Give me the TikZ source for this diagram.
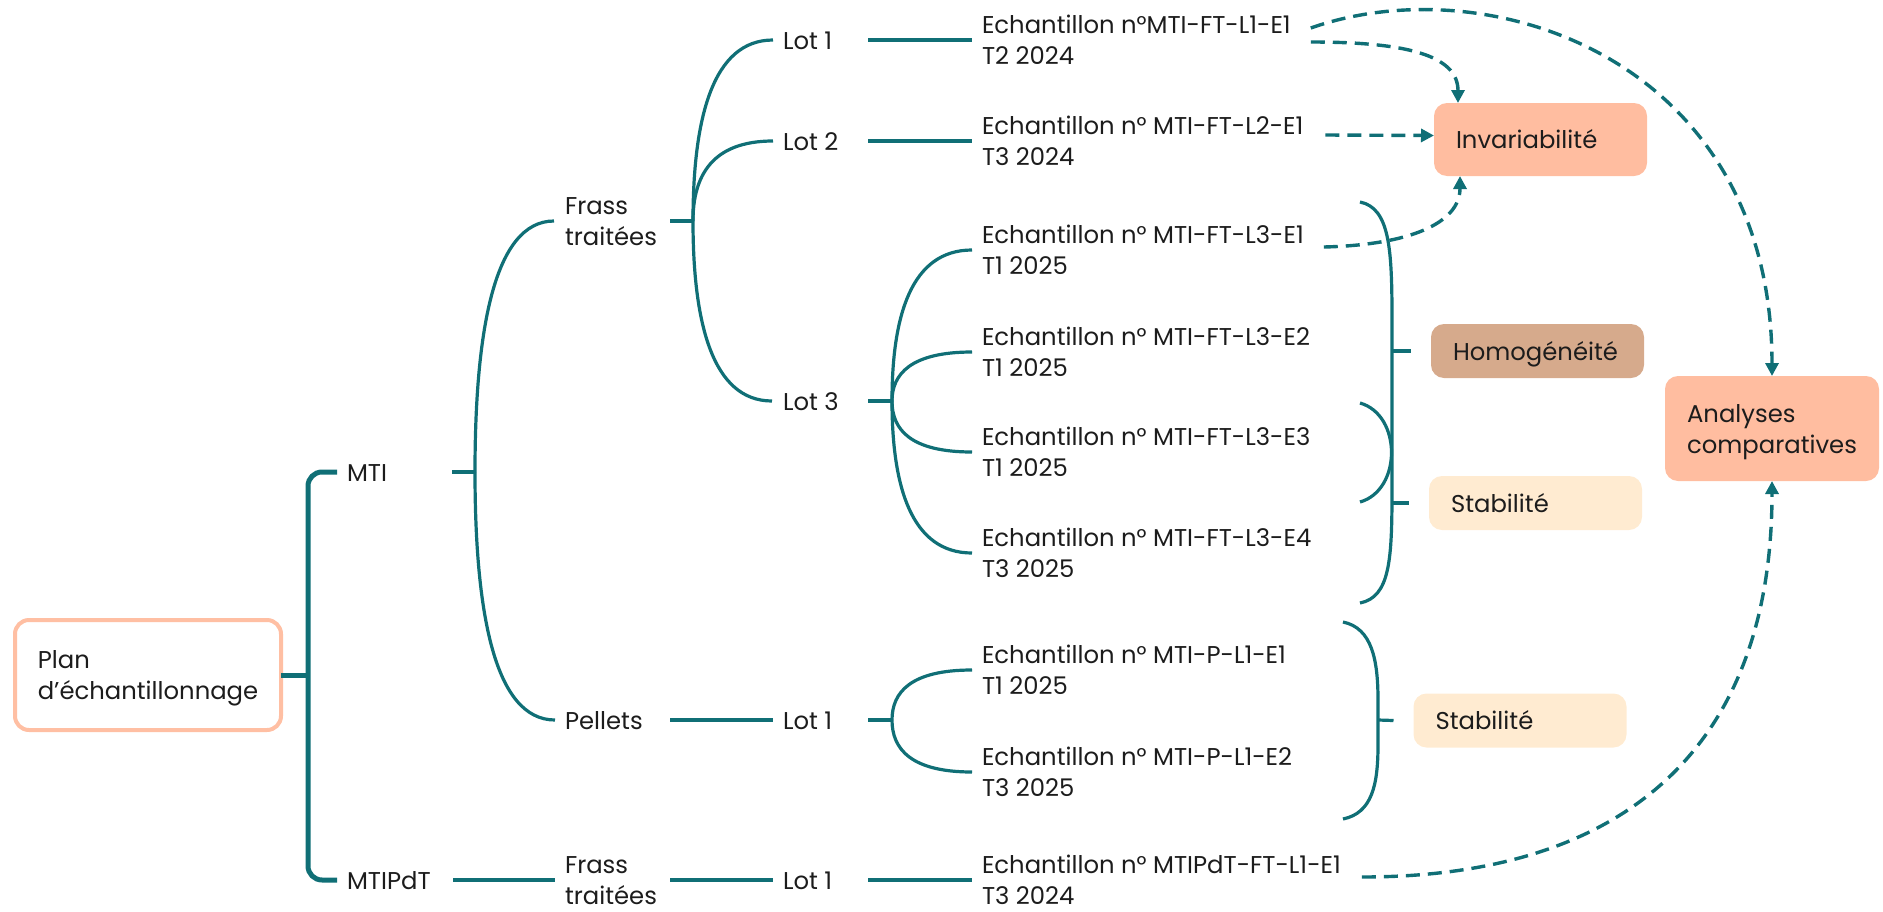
\documentclass[tikz,border=0pt]{standalone}
\usepackage{fontspec}
\setmainfont{Poppins}
\usetikzlibrary{calc,arrows.meta}
\definecolor{teal1}{HTML}{106F76}
\definecolor{txt}{HTML}{1C1C1C}
\definecolor{salm}{HTML}{FFBDA0}
\definecolor{planc}{HTML}{FFBFA3}
\definecolor{tanc}{HTML}{D6AA8C}
\definecolor{cream}{HTML}{FFEBD1}
\newcommand\twol[2]{\vtop{\baselineskip=31pt\lineskiplimit=-100pt\hbox{#1}\hbox{#2}}}
\begin{document}
\begin{tikzpicture}[x=1pt,y=-1pt,
  every node/.style={font=\fontsize{24.3}{31}\selectfont, text=txt},
  lbl/.style={inner sep=0pt, outer sep=0pt, anchor=west, text height=18pt, text depth=0pt},
  lbltwo/.style={inner sep=0pt, outer sep=0pt, anchor=west, text height=18pt, text depth=31pt},
  conn/.style={draw=teal1, line width=3.2pt},
  conbold/.style={draw=teal1, line width=5pt},
  dsh/.style={draw=teal1, line width=3.4pt, dash pattern=on 14pt off 8pt, -{Triangle[length=13pt,width=13pt]}},
  tag/.style={rounded corners=13pt, inner xsep=22pt, inner ysep=0pt, outer sep=0pt, text width=169pt, align=left, text height=18pt, text depth=0pt, minimum height=54pt},
]
\useasboundingbox (0,0) rectangle (1883,911);

% ---------- nodes ----------
\node[draw=planc, line width=4pt, rounded corners=14pt, fill=white, minimum width=266pt, minimum height=110pt, inner sep=0pt, outer sep=0pt, text height=18pt, text depth=31pt] (plan) at (148,675) {\twol{Plan}{d’échantillonnage}};

\node[lbl] (mti) at (347,472) {MTI};
\node[lbl] (mtipdt) at (347,880) {MTIPdT};
\node[lbltwo] (fr1) at (565,221) {\twol{Frass}{traitées}};
\node[lbl] (pel) at (565,720) {Pellets};
\node[lbltwo] (fr2) at (565,880) {\twol{Frass}{traitées}};
\node[lbl] (lot1) at (783,40) {Lot 1};
\node[lbl] (lot2) at (783,141) {Lot 2};
\node[lbl] (lot3) at (783,401) {Lot 3};
\node[lbl] (lotp) at (783,720) {Lot 1};
\node[lbl] (lotm) at (783,880) {Lot 1};

\node[lbltwo] (e11) at (982,40) {\twol{Echantillon n°MTI-FT-L1-E1}{T2 2024}};
\node[lbltwo] (e21) at (982,141) {\twol{Echantillon n° MTI-FT-L2-E1}{T3 2024}};
\node[lbltwo] (e31) at (982,250) {\twol{Echantillon n° MTI-FT-L3-E1}{T1 2025}};
\node[lbltwo] (e32) at (982,352) {\twol{Echantillon n° MTI-FT-L3-E2}{T1 2025}};
\node[lbltwo] (e33) at (982,452) {\twol{Echantillon n° MTI-FT-L3-E3}{T1 2025}};
\node[lbltwo] (e34) at (982,553) {\twol{Echantillon n° MTI-FT-L3-E4}{T3 2025}};
\node[lbltwo] (pe1) at (982,670) {\twol{Echantillon n° MTI-P-L1-E1}{T1 2025}};
\node[lbltwo] (pe2) at (982,772) {\twol{Echantillon n° MTI-P-L1-E2}{T3 2025}};
\node[lbltwo] (me1) at (982,880) {\twol{Echantillon n° MTIPdT-FT-L1-E1}{T3 2024}};

\node[tag, fill=salm, minimum height=73pt] (inv) at (1540.5,139.5) {Invariabilité};
\node[tag, fill=tanc] (hom) at (1537.5,351) {Homogénéité};
\node[tag, fill=cream] (stab1) at (1535.5,503) {Stabilité};
\node[tag, fill=cream] (stab2) at (1520,720.5) {Stabilité};
\node[fill=salm, rounded corners=13pt, inner sep=0pt, outer sep=0pt, minimum width=214pt, minimum height=105pt, text height=18pt, text depth=31pt] (ana) at (1772,428.5) {\twol{Analyses}{comparatives}};

% ---------- tree connectors ----------
\coordinate (b0) at ($(plan.east)+(27,0)$);
\draw[conbold] (plan.east) -- (b0);
\draw[conbold, rounded corners=14pt] ($(mti.west)+(-10,0)$) -| (b0) |- ($(mtipdt.west)+(-10,0)$);

\coordinate (b1) at ($(mti.west)+(128,0)$);
\draw[conn] ($(mti.west)+(105,0)$) -- (b1);
\draw[conn] (b1) .. controls +(0,-141) and +(-60,0) .. ($(fr1.west)+(-11,0)$);
\draw[conn] (b1) .. controls +(0,139) and +(-61,0) .. ($(pel.west)+(-10,0)$);
\draw[conn] ($(mtipdt.west)+(106,0)$) -- ($(fr2.west)+(-10,0)$);

\coordinate (b2) at ($(fr1.west)+(128,0)$);
\draw[conn] ($(fr1.west)+(105,0)$) -- (b2);
\draw[conn] (b2) .. controls +(0,-101) and +(-61,0) .. ($(lot1.west)+(-10,0)$);
\draw[conn] (b2) .. controls +(0,-45) and +(-61,0) .. ($(lot2.west)+(-10,0)$);
\draw[conn] (b2) .. controls +(0,101) and +(-60,0) .. ($(lot3.west)+(-11,0)$);

\draw[conn] ($(lot1.west)+(85,0)$) -- ($(e11.west)+(-10,0)$);
\draw[conn] ($(lot2.west)+(85,0)$) -- ($(e21.west)+(-10,0)$);

\coordinate (b3) at ($(lot3.west)+(109,0)$);
\draw[conn] ($(lot3.west)+(85,0)$) -- (b3);
\draw[conn] (b3) .. controls +(0,-85) and +(-61,0) .. ($(e31.west)+(-10,0)$);
\draw[conn] (b3) .. controls +(0,-27) and +(-61,0) .. ($(e32.west)+(-10,0)$);
\draw[conn] (b3) .. controls +(0,29) and +(-61,0) .. ($(e33.west)+(-10,0)$);
\draw[conn] (b3) .. controls +(0,85) and +(-61,0) .. ($(e34.west)+(-10,0)$);

\draw[conn] ($(pel.west)+(105,0)$) -- ($(lotp.west)+(-10,0)$);
\coordinate (b4) at ($(lotp.west)+(109,0)$);
\draw[conn] ($(lotp.west)+(85,0)$) -- (b4);
\draw[conn] (b4) .. controls +(0,-28) and +(-61,0) .. ($(pe1.west)+(-10,0)$);
\draw[conn] (b4) .. controls +(0,29) and +(-61,0) .. ($(pe2.west)+(-10,0)$);

\draw[conn] ($(fr2.west)+(105,0)$) -- ($(lotm.west)+(-10,0)$);
\draw[conn] ($(lotm.west)+(85,0)$) -- ($(me1.west)+(-10,0)$);

% ---------- right brackets ----------
\draw[conn] (1360,202) .. controls (1390,208) and (1392,250) .. (1392,320) -- (1392,490) .. controls (1392,560) and (1390,597) .. (1360,603);
\draw[conn] (1360,403) .. controls (1402,415) and (1402,490) .. (1360,502);
\draw[conn] (1343,622) .. controls (1372,628) and (1378,660) .. (1378,700) -- (1378,745) .. controls (1378,785) and (1372,813) .. (1343,819);
\coordinate (sh) at (1392,351);
\coordinate (ss1) at (1392,503);
\coordinate (ss2) at (1378,720);
\draw[conn] (sh) -- ($(hom.west)+(-20,0)$);
\draw[conn] (ss1) -- ($(stab1.west)+(-20,0)$);
\draw[conn] (ss2) -- ($(stab2.west)+(-20,0)$);

% ---------- dashed arrows ----------
\draw[dsh] ($(e11.east)+(20,-12)$) .. controls (1490,-35) and (1772,60) .. (ana.north);
\draw[dsh] ($(e11.east)+(20,2)$) .. controls +(95,0) and +(0,-48) .. ($(inv.north west)+(24,0)$);
\draw[dsh] ($(e21.east)+(22,-6)$) -- ($(inv.west)+(0,-4)$);
\draw[dsh] ($(e31.east)+(20,-3)$) .. controls +(84,-2) and +(0,48) .. ($(inv.south west)+(26,0)$);
\draw[dsh] ($(me1.east)+(21,-3)$) .. controls +(271,0) and +(0,259) .. (ana.south);
\end{tikzpicture}
\end{document}
